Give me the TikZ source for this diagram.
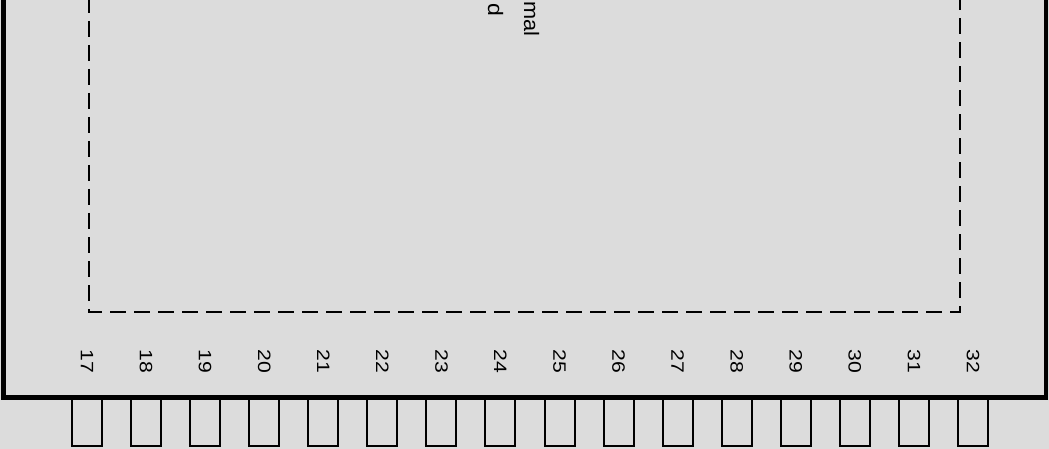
\documentclass[tikz,border=0pt]{standalone}
\usepackage{fontspec}
\setmainfont{Liberation Sans}
\definecolor{bggray}{HTML}{DCDCDC}
\begin{document}
\begin{tikzpicture}[x=1bp,y=-1bp,
  chipline/.style={draw=black,line width=4.5bp,line join=miter},
  padline/.style={draw=black,line width=2bp,dash pattern=on 16bp off 8bp},
  pinbox/.style={draw=black,line width=2bp},
  pinlabel/.style={rotate=-90,inner sep=0pt,font=\fontsize{18}{18}\selectfont},
  padlabel/.style={rotate=-90,inner sep=0pt,anchor=base east,font=\fontsize{21}{21}\selectfont},
]
\useasboundingbox (0,0) rectangle (1049,449);
\clip (0,0) rectangle (1049,449);
\fill[bggray] (0,0) rectangle (1049,449);
% pins
\foreach \i in {0,...,15} {
  \pgfmathsetmacro{\px}{72+59.07*\i}
  \pgfmathtruncatemacro{\pn}{17+\i}
  \draw[pinbox] (\px,397.5) rectangle ++(30,48.5);
  \node[pinlabel] (lab\pn) at (\px+15,361.5) {\scalebox{1.18}[1]{\pn}};
}
% chip outline
\coordinate (ctl) at (3.5,-10);
\coordinate (cbl) at (3.5,397.5);
\coordinate (cbr) at (1046,397.5);
\coordinate (ctr) at (1046,-10);
\draw[chipline] (ctl) -- (cbl) -- (cbr) -- (ctr);
% exposed pad (dashed)
\coordinate (ptl) at (89,-3);
\coordinate (pbl) at (89,312);
\coordinate (pbr) at (960,312);
\coordinate (ptr) at (960,-10);
\draw[padline] (ptl) -- (pbl) -- (pbr) -- (ptr);
% pad texts
\node[padlabel] (padtxtA) at (524,36.5) {\scalebox{1.04}[1]{mal}};
\node[padlabel] (padtxtB) at (488,16.5) {\scalebox{1.1}[1]{d}};
\end{tikzpicture}
\end{document}
